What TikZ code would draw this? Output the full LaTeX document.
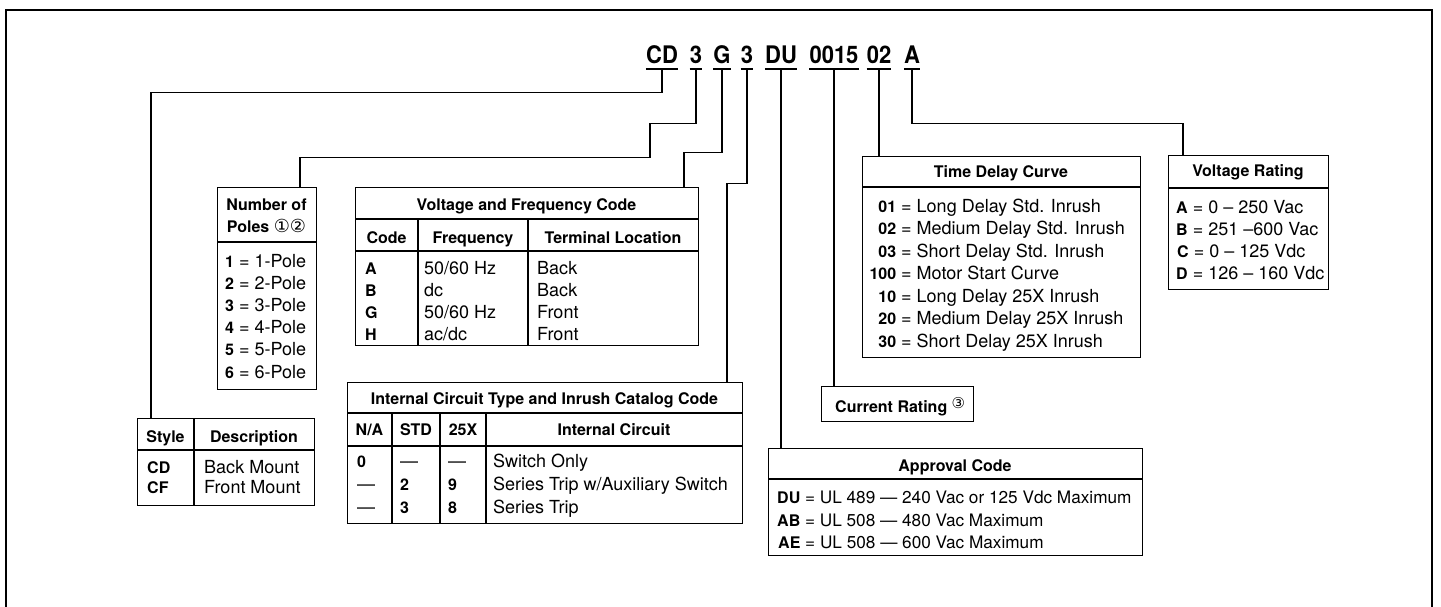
\documentclass[tikz,border=0pt]{standalone}
\usepackage{fontspec}
\setmainfont{TeX Gyre Heros}
\newfontfamily\circfont{DejaVu Sans}
\newcommand{\circno}[3]{\raisebox{#2}{\fontsize{#1}{#1}\selectfont\circfont\mdseries #3}}
\newcommand{\kb}[1]{{\fontsize{16pt}{18pt}\selectfont\bfseries #1}}
\newcommand{\tall}[1]{\scalebox{1}[1.1]{#1}}

\begin{document}
\begin{tikzpicture}[x=1pt, y=-1pt,
  every node/.style={inner sep=0pt, font=\fontsize{18pt}{22pt}\selectfont},
  txt/.style={anchor=base west},
  hdr/.style={anchor=base, font=\fontsize{16pt}{18pt}\selectfont\bfseries},
  code/.style={anchor=base, text depth=5pt, font=\fontsize{22pt}{22pt}\selectfont\bfseries},
  tbl/.style={draw, line width=1.3pt, anchor=north west},
  wire/.style={line width=1.2pt},
  rule/.style={line width=1.3pt}]

\useasboundingbox (0,0) rectangle (1441,607);
\draw[line width=2pt] (6,620) -- (6,10) -- (1432,10) -- (1432,620);

% catalog number
\node[code] (c1) at (662,64) {\tall{CD}};
\node[code] (c2) at (696,64) {\tall{3}};
\node[code] (c3) at (722,64) {\tall{G}};
\node[code] (c4) at (747,64) {\tall{3}};
\node[code] (c5) at (781,64) {\tall{DU}};
\node[code] (c6) at (834,64) {\tall{0015}};
\node[code] (c7) at (879,64) {\tall{02}};
\node[code] (c8) at (912,64) {\tall{A}};
\foreach \k in {1,...,8}
  \draw[line width=1.6pt] (c\k.south west) -- (c\k.south east);

% tables
\node[tbl, minimum width=177pt, minimum height=87pt] (style) at (137,418) {};
\node[tbl, minimum width=99pt, minimum height=202pt] (poles) at (217,187) {};
\node[tbl, minimum width=343pt, minimum height=158pt] (vf) at (355,187) {};
\node[tbl, minimum width=395pt, minimum height=141pt] (ic) at (347,382) {};
\node[tbl, minimum width=278pt, minimum height=201pt] (td) at (862,156) {};
\node[tbl, minimum width=160pt, minimum height=134pt] (vr) at (1168,155) {};
\node[tbl, minimum width=152pt, minimum height=35pt] (cur) at (821,386) {};
\node[tbl, minimum width=374pt, minimum height=107pt] (ac) at (768,448) {};

\draw[rule] (137,450) -- (314,450) (194,418) -- (194,505);
\draw[rule] (217,242) -- (316,242);
\draw[rule] (355,219) -- (698,219) (355,251) -- (698,251)
  (418,219) -- (418,345) (528,219) -- (528,345);
\draw[rule] (347,413) -- (742,413) (347,446) -- (742,446)
  (392,413) -- (392,523) (440,413) -- (440,523) (486,413) -- (486,523);
\draw[rule] (862,187) -- (1140,187);
\draw[rule] (1168,188) -- (1328,188);
\draw[rule] (768,479) -- (1142,479);

% connectors
\draw[wire] (c1.south) |- ++(-511,23) -- ([xshift=14pt]style.north west);
\draw[wire] (c2.south) |- ++(-46,54) -- ++(0,34) -| ([xshift=83pt]poles.north west);
\draw[wire] (c3.south) |- ++(-38,83) -| ([xshift=329pt]vf.north west);
\draw[wire] (c4.south) |- ++(-20,114) -| ([xshift=380pt]ic.north west);
\draw[wire] (c5.south) -- (c5.south |- ac.north);
\draw[wire] (c6.south) -- (c6.south |- cur.north);
\draw[wire] (c7.south) -- (c7.south |- td.north);
\draw[wire] (c8.south) |- ++(271,54) -| ([xshift=15pt]vr.north west);

% style
\node[hdr] (st-h1) at (165.5,442) {Style};
\node[hdr] (st-h2) at (254,442) {Description};
\node[txt] (st-a) at (147,473) {\kb{CD}};
\node[txt] (st-b) at (147,493) {\kb{CF}};
\node[txt] (st-c) at (204,473) {Back Mount};
\node[txt] (st-d) at (204,493) {Front Mount};

% poles
\node[hdr] (po-h1) at (266.5,210) {Number of};
\node[hdr] (po-h2) at (266.5,233) {Poles \circno{18pt}{0.5pt}{①②}};
\foreach \n [count=\i from 0] in {1,...,6}
  \node[txt] (po\n) at (225,267+22.2*\i) {\kb{\n} = \n-Pole};

% voltage and frequency
\node[hdr] (vf-h) at (526.5,211) {Voltage and Frequency Code};
\node[hdr] (vf-h1) at (386.5,243) {Code};
\node[hdr] (vf-h2) at (473,243) {Frequency};
\node[hdr] (vf-h3) at (613,243) {Terminal Location};
\foreach \c/\f/\t [count=\i from 0] in {A/50\slash60 Hz/Back, B/dc/Back, G/50\slash60 Hz/Front, H/ac\slash dc/Front} {
  \node[txt] (vfa\i) at (365,274+22*\i) {\kb{\c}};
  \node[txt] (vfb\i) at (424,274+22*\i) {\f};
  \node[txt] (vfc\i) at (537,274+22*\i) {\t};
}

% internal circuit
\node[hdr] (ic-h) at (544.5,404) {Internal Circuit Type and Inrush Catalog Code};
\node[hdr] (ic-h1) at (369.5,435) {N/A};
\node[hdr] (ic-h2) at (416,435) {STD};
\node[hdr] (ic-h3) at (463,435) {25X};
\node[hdr] (ic-h4) at (614,435) {Internal Circuit};
\node[txt] (ic-a1) at (357,467) {\kb{0}};
\node[txt] (ic-b1) at (400,467) {—};
\node[txt] (ic-c1) at (448,467) {—};
\node[txt] (ic-d1) at (493,467) {Switch Only};
\node[txt] (ic-a2) at (357,490) {—};
\node[txt] (ic-b2) at (400,490) {\kb{2}};
\node[txt] (ic-c2) at (448,490) {\kb{9}};
\node[txt] (ic-d2) at (493,490) {Series Trip w/Auxiliary Switch};
\node[txt] (ic-a3) at (357,513) {—};
\node[txt] (ic-b3) at (400,513) {\kb{3}};
\node[txt] (ic-c3) at (448,513) {\kb{8}};
\node[txt] (ic-d3) at (493,513) {Series Trip};

% time delay curve
\node[hdr] (td-h) at (1001,178) {Time Delay Curve};
\foreach \c/\t [count=\i from 0] in {01/Long Delay Std. Inrush, 02/Medium Delay Std. Inrush,
    03/Short Delay Std. Inrush, 100/Motor Start Curve, 10/Long Delay 25X Inrush,
    20/Medium Delay 25X Inrush, 30/Short Delay 25X Inrush}
  \node[txt] (td\i) at (896,212+22.5*\i) {\llap{\kb{\c}} = \t};

% voltage rating
\node[hdr] (vr-h) at (1248,177) {Voltage Rating};
\node[txt] (vr1) at (1176,213) {\kb{A} = 0 – 250 Vac};
\node[txt] (vr2) at (1176,235) {\kb{B} = 251 –600 Vac};
\node[txt] (vr3) at (1177,257) {\kb{C} = 0 – 125 Vdc};
\node[txt] (vr4) at (1176,279) {\kb{D} = 126 – 160 Vdc};

% current rating
\node[hdr, anchor=base west] (cur-t) at (835,412) {Current Rating \circno{15pt}{4pt}{③}};

% approval code
\node[hdr] (ac-h) at (955,471) {Approval Code};
\begin{scope}[every node/.append style={font=\fontsize{17.2pt}{22pt}\selectfont}]
\node[txt] (ac1) at (777,503) {\kb{DU} = UL 489 — 240 Vac or 125 Vdc Maximum};
\node[txt] (ac2) at (777,526) {\kb{AB} = UL 508 — 480 Vac Maximum};
\node[txt] (ac3) at (778,548) {\kb{AE} = UL 508 — 600 Vac Maximum};
\end{scope}

\end{tikzpicture}
\end{document}
